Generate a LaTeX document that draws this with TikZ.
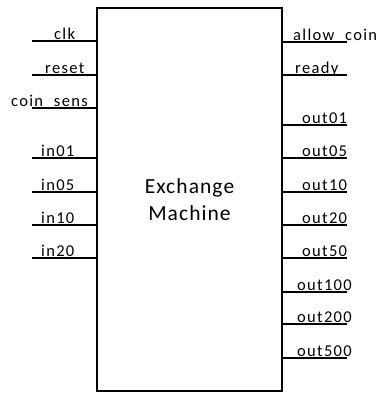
\documentclass[tikz,border=0pt]{standalone}
\usepackage{fontspec}
\setmainfont{Carlito}
\newfontfamily\labfont[LetterSpace=8]{Carlito}
\newfontfamily\midfont[LetterSpace=5]{Carlito}
\begin{document}
\begin{tikzpicture}[x=1pt,y=-1pt,
  lab/.style={anchor=base west, inner sep=0pt, font=\labfont\fontsize{16.5}{20}\selectfont},
  pinline/.style={line width=1.2pt},
  block/.style={draw, line width=1.8pt, minimum width=185pt, minimum height=383pt, inner sep=0pt, align=center, font=\midfont\fontsize{21.5}{27}\selectfont}]
\useasboundingbox (0,0) rectangle (379,394);
\node[block] (m) at (189.5,199.5) {Exchange\\Machine};
% left pins
\foreach \n/\t/\y/\tx in {clk/clk/41/54, reset/reset/75/45, coinsens/coin\_sens/108/11, in01/in01/158/41, in05/in05/192/41, in10/in10/225/41, in20/in20/258/41}{
  \coordinate (l-\n) at (32,\y);
  \draw[pinline] (l-\n) -- (l-\n -| m.west);
  \node[lab] (t-\n) at (\tx,\y-2) {\t};
}
% right pins
\foreach \n/\t/\y/\tx in {allowcoin/allow\_coin/42/293, ready/ready/75/295, out01/out01/125/302, out05/out05/158/302, out10/out10/192/302, out20/out20/225/302, out50/out50/258/302, out100/out100/292/297, out200/out200/324/297, out500/out500/358/297}{
  \coordinate (r-\n) at (347,\y);
  \draw[pinline] (r-\n) -- (r-\n -| m.east);
  \node[lab] (t-\n) at (\tx,\y-2) {\t};
}
\end{tikzpicture}
\end{document}
